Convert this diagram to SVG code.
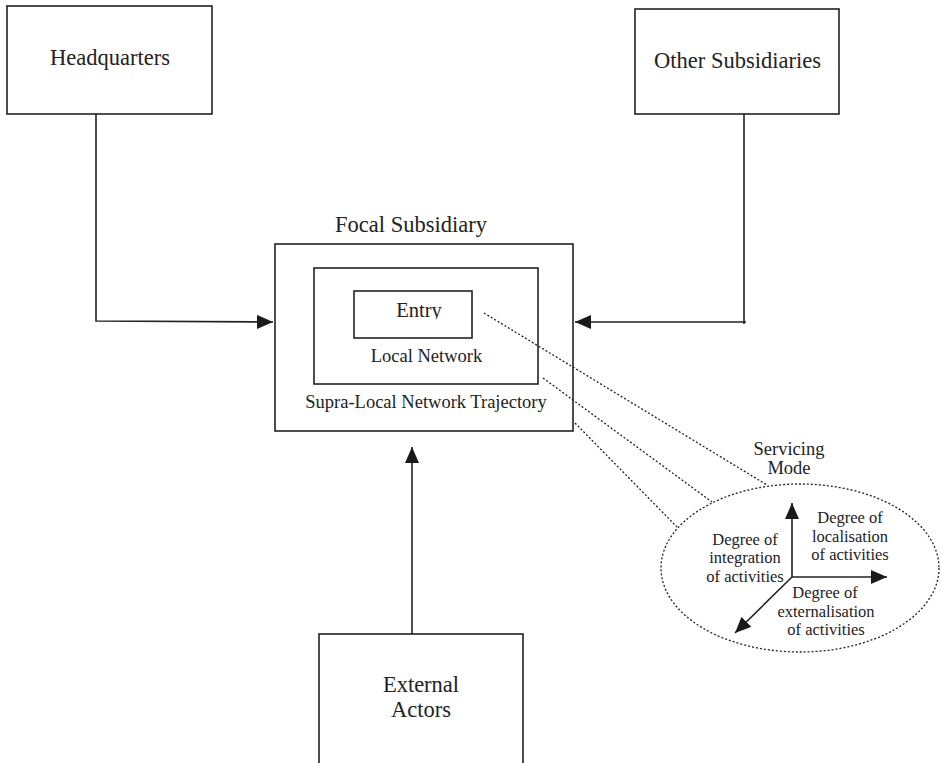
<svg xmlns="http://www.w3.org/2000/svg" width="941" height="763" viewBox="0 0 941 763">
  <style>
    .box { fill: none; stroke: #222222; stroke-width: 1.6; }
    .ln { fill: none; stroke: #222222; stroke-width: 1.6; }
    .dot { fill: none; stroke: #222222; stroke-width: 1.3; stroke-dasharray: 2 2; }
    .t { font-family: "Liberation Serif", "Times New Roman", serif; fill: #222222; text-anchor: middle; }
    .big { font-size: 22.5px; }
    .mid { font-size: 18.5px; }
    .sm { font-size: 16.5px; }
  </style>
  <defs>
    <marker id="ah" viewBox="0 0 16 14" refX="16" refY="7" markerWidth="16" markerHeight="14" markerUnits="userSpaceOnUse" orient="auto">
      <path d="M0,0 L16,7 L0,14 Z" fill="#1a1a1a"/>
    </marker>
    <clipPath id="entryClip">
      <rect x="380" y="290" width="80" height="29"/>
    </clipPath>
  </defs>
  <rect width="941" height="763" fill="#ffffff"/>

  <g id="headquarters">
    <rect class="box" x="7" y="6" width="205" height="108"/>
    <text class="t big" x="110" y="65">Headquarters</text>
  </g>

  <g id="other-subsidiaries">
    <rect class="box" x="635" y="9" width="204" height="105"/>
    <text class="t big" x="737.5" y="68">Other Subsidiaries</text>
  </g>

  <g id="focal-subsidiary">
    <text class="t big" x="411" y="232">Focal Subsidiary</text>
    <rect class="box" x="275" y="244" width="298" height="187"/>
    <text class="t mid" x="426" y="408">Supra-Local Network Trajectory</text>
  </g>

  <g id="local-network">
    <rect class="box" x="314" y="268" width="224" height="116"/>
    <text class="t mid" x="426.5" y="362">Local Network</text>
  </g>

  <g id="entry">
    <rect class="box" x="354" y="291" width="118" height="47"/>
    <text class="t" style="font-size:20.5px" x="419" y="317" clip-path="url(#entryClip)">Entry</text>
  </g>

  <g id="external-actors">
    <rect class="box" x="319" y="634" width="204" height="160"/>
    <text class="t big" x="421" y="692">External</text>
    <text class="t big" x="421" y="717">Actors</text>
  </g>

  <g id="servicing-mode">
    <text class="t mid" x="789" y="455">Servicing</text>
    <text class="t mid" x="789" y="474">Mode</text>
    <ellipse class="dot" cx="800" cy="568" rx="139" ry="84"/>
    <line class="ln" x1="792" y1="577" x2="792" y2="503" marker-end="url(#ah)"/>
    <line class="ln" x1="792" y1="577" x2="887" y2="577" marker-end="url(#ah)"/>
    <line class="ln" x1="792" y1="577" x2="735" y2="633" marker-end="url(#ah)"/>
    <text class="t sm" x="745" y="545">Degree of</text>
    <text class="t sm" x="745" y="563">integration</text>
    <text class="t sm" x="745" y="582">of activities</text>
    <text class="t sm" x="850" y="523">Degree of</text>
    <text class="t sm" x="850" y="542">localisation</text>
    <text class="t sm" x="850" y="560">of activities</text>
    <text class="t sm" x="825" y="598">Degree of</text>
    <text class="t sm" x="826" y="617">externalisation</text>
    <text class="t sm" x="826" y="635">of activities</text>
  </g>

  <g id="connectors">
    <polyline class="ln" points="96,114 96,321 273,322" marker-end="url(#ah)"/>
    <polyline class="ln" points="744,114 744,324"/>
    <line class="ln" x1="746" y1="322" x2="575" y2="322" marker-end="url(#ah)"/>
    <line class="ln" x1="412" y1="634" x2="412" y2="447" marker-end="url(#ah)"/>
    <line class="dot" x1="484" y1="313" x2="767" y2="485"/>
    <line class="dot" x1="543" y1="378" x2="712" y2="502"/>
    <line class="dot" x1="575" y1="423" x2="677" y2="527"/>
  </g>
</svg>
